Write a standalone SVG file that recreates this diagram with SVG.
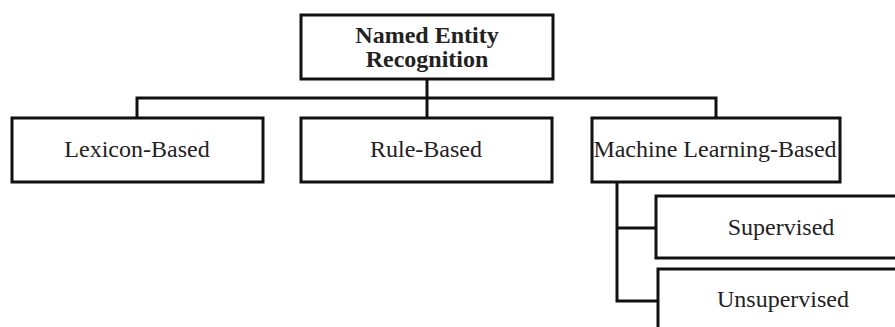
<svg xmlns="http://www.w3.org/2000/svg" width="895" height="327" viewBox="0 0 895 327">
<style>
.box{fill:#fff;stroke:#111;stroke-width:3}
.ln{fill:none;stroke:#111;stroke-width:3}
.t{font-family:"Liberation Serif","Times New Roman",serif;font-size:24px;fill:#222;text-anchor:middle}
.b{font-weight:bold}
</style>
<rect width="895" height="327" fill="#fff"/>
<g id="connectors">
<path class="ln" d="M427 79 V118 M137 118 V98 H716 V118"/>
<path class="ln" d="M617 182 V301 H658 M617 228 H656"/>
</g>
<g id="ner">
<rect class="box" x="301" y="15" width="252" height="64"/>
<text class="t b" x="427" y="43">Named Entity</text>
<text class="t b" x="427" y="67">Recognition</text>
</g>
<g id="lexicon">
<rect class="box" x="12" y="118" width="251" height="64"/>
<text class="t" x="137" y="157">Lexicon-Based</text>
</g>
<g id="rule">
<rect class="box" x="301" y="118" width="251" height="64"/>
<text class="t" x="426" y="157">Rule-Based</text>
</g>
<g id="ml">
<rect class="box" x="592" y="118" width="248" height="64"/>
<text class="t" x="715" y="157">Machine Learning-Based</text>
</g>
<g id="supervised">
<rect class="box" x="656" y="196" width="260" height="62"/>
<text class="t" x="781" y="235">Supervised</text>
</g>
<g id="unsupervised">
<rect class="box" x="658" y="269" width="260" height="70"/>
<text class="t" x="783" y="307">Unsupervised</text>
</g>
</svg>
